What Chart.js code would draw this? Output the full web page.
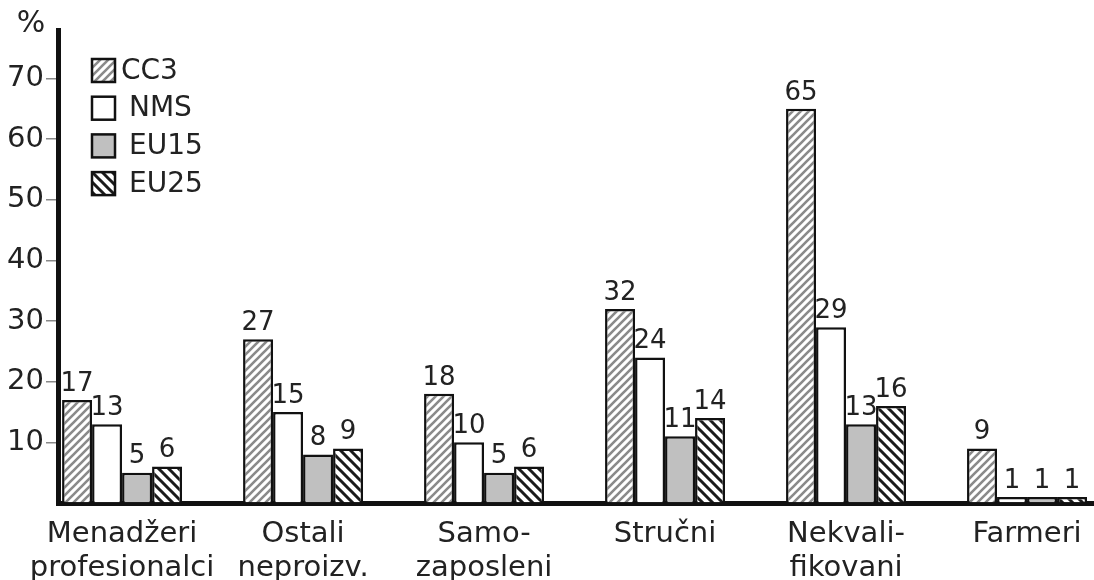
<!DOCTYPE html>
<html>
<head>
<meta charset="utf-8">
<script src="https://cdn.jsdelivr.net/npm/chart.js@4/dist/chart.umd.min.js"></script>
<style>
  html, body { margin: 0; padding: 0; background: #fff; }
  #wrap { width: 1094px; height: 580px; }
</style>
</head>
<body>
<div id="wrap"><canvas id="chart" width="1094" height="580"></canvas></div>
<script>
// data
const categories = [
    ['Menadžeri', 'profesionalci'],
    ['Ostali', 'neproizv.'],
    ['Samo-', 'zaposleni'],
    ['Stručni'],
    ['Nekvali-', 'fikovani'],
    ['Farmeri']
];
const seriesNames = ['CC3', 'NMS', 'EU15', 'EU25'];
const cc3 = [17, 27, 18, 32, 65, 9];
const nms = [13, 15, 10, 24, 29, 1];
const eu15 = [5, 8, 5, 11, 13, 1];
const eu25 = [6, 9, 6, 14, 16, 1];
const yTicks = [10, 20, 30, 40, 50, 60, 70];

const FONT = "'DejaVu Sans', sans-serif";

// hatch patterns
function hatch(dir, period, color, width) {
    const c = document.createElement('canvas');
    c.width = period; c.height = period;
    const g = c.getContext('2d');
    g.fillStyle = '#fff';
    g.fillRect(0, 0, period, period);
    g.strokeStyle = color;
    g.lineWidth = width;
    g.beginPath();
    if (dir === '/') {
        g.moveTo(0, period); g.lineTo(period, 0);
        g.moveTo(-period, period); g.lineTo(period, -period);
        g.moveTo(0, 2 * period); g.lineTo(2 * period, 0);
    } else {
        g.moveTo(0, 0); g.lineTo(period, period);
        g.moveTo(-period, 0); g.lineTo(period, 2 * period);
        g.moveTo(0, -period); g.lineTo(2 * period, period);
    }
    g.stroke();
    return g.createPattern(c, 'repeat');
}

const ctx = document.getElementById('chart').getContext('2d');
const fills = [
    hatch('/', 8, '#8a8a8a', 2.6),
    '#ffffff',
    '#c0c0c0',
    hatch('\\', 10, '#1a1a1a', 3)
];

const toPoints = arr => arr.map((v, i) => ({ x: i, y: v }));

const valueLabels = {
    id: 'valueLabels',
    afterDatasetsDraw(chart) {
        const c = chart.ctx;
        c.save();
        c.font = '26px ' + FONT;
        c.fillStyle = '#222';
        c.textAlign = 'center';
        c.textBaseline = 'bottom';
        chart.data.datasets.forEach((ds, di) => {
            const meta = chart.getDatasetMeta(di);
            meta.data.forEach((el, i) => {
                c.fillText(String(ds.data[i].y), el.x, el.y - 3);
            });
        });
        c.restore();
    }
};

const sideLegend = {
    id: 'sideLegend',
    afterDraw(chart) {
        const c = chart.ctx;
        c.save();
        // unit label
        c.font = '30px ' + FONT;
        c.fillStyle = '#222';
        c.textAlign = 'center';
        c.textBaseline = 'middle';
        c.fillText('%', 31, 24);

        c.font = '28px ' + FONT;
        c.textAlign = 'left';
        chart.data.datasets.forEach((ds, i) => {
            const x = 92, y = 59 + i * 37.7, s = 23;
            c.fillStyle = ds.backgroundColor;
            c.fillRect(x, y, s, s);
            c.lineWidth = 2.5;
            c.strokeStyle = '#111';
            c.strokeRect(x, y, s, s);
            c.fillStyle = '#222';
            c.fillText(ds.label, i === 0 ? x + 29 : x + 37, y + s / 2 + 1);
        });
        c.restore();
    }
};

new Chart(ctx, {
    type: 'bar',
    data: {
        datasets: [
            { label: seriesNames[0], data: toPoints(cc3), backgroundColor: fills[0] },
            { label: seriesNames[1], data: toPoints(nms), backgroundColor: fills[1] },
            { label: seriesNames[2], data: toPoints(eu15), backgroundColor: fills[2] },
            { label: seriesNames[3], data: toPoints(eu25), backgroundColor: fills[3] }
        ]
    },
    options: {
        responsive: false,
        animation: false,
        layout: { padding: { top: 30, left: 0, right: 0, bottom: 0 } },
        datasets: {
            bar: {
                categoryPercentage: 0.663,
                barPercentage: 1,
                borderColor: '#111',
                borderWidth: 2.5,
                borderSkipped: 'bottom'
            }
        },
        plugins: {
            legend: { display: false },
            tooltip: { enabled: false }
        },
        scales: {
            x: {
                type: 'linear',
                offset: false,
                min: -0.354,
                max: 5.37,
                grid: { display: false, offset: false },
                border: { display: true, color: '#111', width: 5 },
                ticks: {
                    stepSize: 1,
                    autoSkip: false,
                    maxRotation: 0,
                    includeBounds: false,
                    padding: 6,
                    color: '#222',
                    font: { family: FONT, size: 29, lineHeight: 1.18 },
                    callback: v => Number.isInteger(v) && categories[v] ? categories[v] : ''
                },
                afterFit(scale) {
                    scale.height = 77;
                    scale.paddingLeft = 0;
                    scale.paddingRight = 0;
                }
            },
            y: {
                min: 0,
                max: 78,
                afterBuildTicks(scale) {
                    scale.ticks = [0].concat(yTicks).map(v => ({ value: v }));
                },
                grid: {
                    drawOnChartArea: false,
                    drawTicks: true,
                    tickLength: 12,
                    lineWidth: 1.5,
                    color: c => c.tick && c.tick.value === 0 ? 'rgba(0,0,0,0)' : '#888'
                },
                border: { display: true, color: '#111', width: 5 },
                ticks: {
                    padding: 2,
                    color: '#222',
                    font: { family: FONT, size: 29 },
                    callback: v => v === 0 ? '' : v
                },
                afterFit(scale) {
                    scale.width = 58;
                    scale.paddingTop = 0;
                    scale.paddingBottom = 0;
                }
            }
        }
    },
    plugins: [valueLabels, sideLegend]
});
</script>
</body>
</html>
